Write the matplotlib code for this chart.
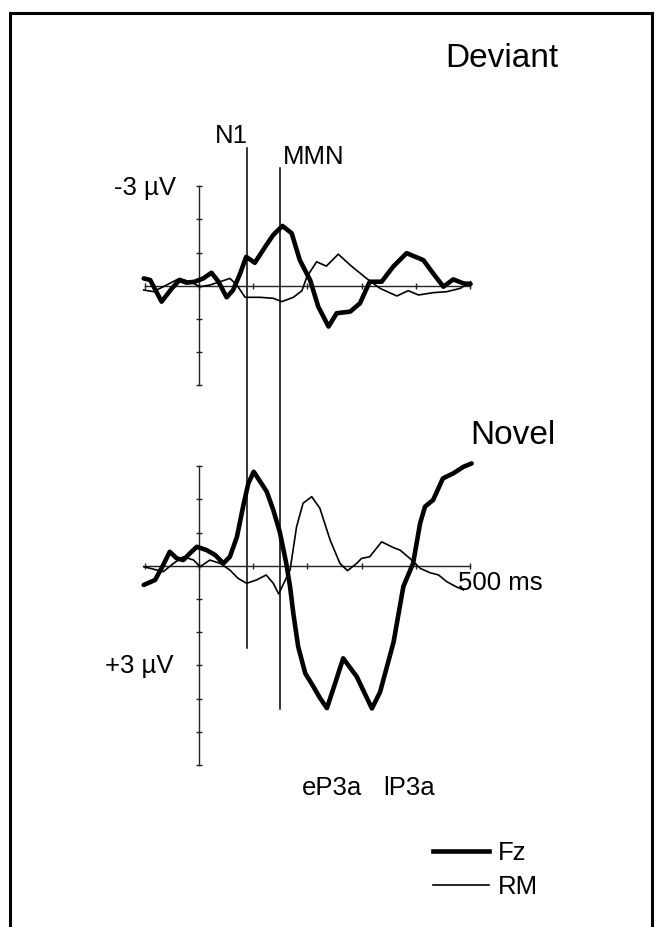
import matplotlib
matplotlib.use("Agg")
import matplotlib.pyplot as plt
from matplotlib.lines import Line2D
from matplotlib.patches import Rectangle

plt.rcParams['font.family'] = ['Liberation Sans', 'DejaVu Sans']

# ---------------- data (ms, µV; negative plotted up) ----------------
dev_fz_t = [-102, -90, -69, -50, -36, -23, -8, 8, 23, 36, 51, 63, 76, 87, 103, 122, 137, 154,
            171, 186, 205, 220, 239, 254, 279, 297, 315, 337, 358, 383, 414, 432, 451, 469, 488, 501]
dev_fz_v = [-0.22, -0.17, 0.48, 0.08, -0.17, -0.09, -0.12, -0.22, -0.39, -0.12, 0.35, 0.13, -0.37,
            -0.87, -0.69, -1.17, -1.53, -1.80, -1.58, -0.77, -0.17, 0.63, 1.23, 0.83, 0.78, 0.53,
            -0.12, -0.12, -0.57, -0.98, -0.77, -0.37, 0.03, -0.19, -0.07, -0.05]

dev_rm_t = [-102, -84, -60, -36, -17, 2, 20, 39, 57, 70, 85, 113, 137, 153, 174, 190, 199, 217,
            235, 257, 279, 309, 334, 365, 386, 405, 432, 457, 482, 501]
dev_rm_v = [0.13, 0.18, -0.02, -0.22, -0.12, 0.03, -0.02, -0.12, -0.22, -0.02, 0.35, 0.35, 0.38,
            0.48, 0.35, 0.15, -0.27, -0.72, -0.59, -0.95, -0.62, -0.22, 0.08, 0.31, 0.15, 0.28,
            0.21, 0.18, 0.08, -0.12]

nov_fz_t = [-102, -81, -66, -54, -41, -29, -17, -4, 14, 30, 45, 57, 70, 82, 91, 101, 113, 125, 137,
            149, 161, 168, 174, 183, 196, 211, 223, 236, 251, 266, 291, 319, 334, 359, 377, 395,
            408, 417, 432, 450, 469, 488, 503]
nov_fz_v = [0.58, 0.43, -0.02, -0.42, -0.22, -0.17, -0.37, -0.57, -0.47, -0.32, -0.07, -0.27, -0.87,
            -1.83, -2.48, -2.83, -2.53, -2.23, -1.68, -1.02, -0.07, 0.63, 1.43, 2.44, 3.24, 3.64,
            3.98, 4.29, 3.55, 2.79, 3.34, 4.30, 3.81, 2.30, 0.63, -0.07, -1.28, -1.78, -1.98,
            -2.63, -2.78, -2.98, -3.08]

nov_rm_t = [-102, -66, -47, -29, -10, 2, 20, 39, 57, 72, 88, 106, 124, 137, 147, 168, 180, 192, 208,
            223, 242, 260, 274, 291, 300, 315, 337, 358, 371, 389, 408, 426, 442, 457, 474, 488]
nov_rm_v = [0.03, 0.18, -0.07, -0.27, -0.17, 0.03, -0.17, -0.07, 0.13, 0.38, 0.53, 0.43, 0.28,
            0.53, 0.85, 0.13, -1.17, -1.88, -2.08, -1.73, -0.77, -0.07, 0.15, -0.07, -0.22, -0.27,
            -0.72, -0.55, -0.47, -0.22, 0.08, 0.21, 0.28, 0.48, 0.63, 0.73]

marker_names = ['N1', 'MMN']
marker_ms = [88, 150]
x_ticks = [-100, 0, 100, 200, 300, 400, 500]
dev_yrange = (-3, 3)
nov_yrange = (-3, 6)
series_labels = ['Fz', 'RM']

# ---------------- layout ----------------
W, H = 662, 927
fig = plt.figure(figsize=(W / 100, H / 100), dpi=100)


def fx(px):
    return px / W


def fy(py):
    return 1 - py / H


X0, PX_MS, PX_UV = 199.0, 0.542, 33.2
DEV_ZERO, NOV_ZERO = 285.7, 565.7
PANEL_OFFSET = (NOV_ZERO - DEV_ZERO) / PX_UV   # novel zero expressed in deviant µV units


def make_axes(zero_px, yr):
    left = X0 + PX_MS * x_ticks[0]
    right = X0 + PX_MS * x_ticks[-1]
    top = zero_px + PX_UV * yr[0]
    bot = zero_px + PX_UV * yr[1]
    ax = fig.add_axes([fx(left), fy(bot), (right - left) / W, (bot - top) / H])
    ax.set_xlim(x_ticks[0], x_ticks[-1])
    ax.set_ylim(yr[1], yr[0])
    ax.patch.set_visible(False)
    for s in ['top', 'right']:
        ax.spines[s].set_visible(False)
    ax.spines['left'].set_position(('data', 0))
    ax.spines['bottom'].set_position(('data', 0))
    ax.spines['left'].set_bounds(yr[0], yr[1])
    ax.spines['bottom'].set_bounds(x_ticks[0], x_ticks[-1])
    for s in ['left', 'bottom']:
        ax.spines[s].set_linewidth(1.0)
        ax.spines[s].set_color('#222222')
    ax.set_xticks(x_ticks)
    ax.set_yticks(list(range(yr[0], yr[1] + 1)))
    ax.tick_params(direction='inout', length=4.5, width=1.0, color='#222222',
                   labelleft=False, labelbottom=False)
    return ax


ax_dev = make_axes(DEV_ZERO, dev_yrange)
ax_nov = make_axes(NOV_ZERO, nov_yrange)

kw_fz = dict(color='black', lw=3.3, solid_joinstyle='round', solid_capstyle='round',
             clip_on=False, zorder=4)
kw_rm = dict(color='black', lw=1.2, solid_joinstyle='round', clip_on=False, zorder=3)

ax_dev.plot(dev_fz_t, dev_fz_v, **kw_fz)
ax_dev.plot(dev_rm_t, dev_rm_v, **kw_rm)
ax_nov.plot(nov_fz_t, nov_fz_v, **kw_fz)
ax_nov.plot(nov_rm_t, nov_rm_v, **kw_rm)

# vertical component markers spanning both panels
marker_top = [-4.15, -3.55]     # in deviant µV units
marker_bot = [2.48, 4.32]       # in novel µV units
for ms, yt, yb in zip(marker_ms, marker_top, marker_bot):
    ax_dev.plot([ms, ms], [yt, yb + PANEL_OFFSET], color='black', lw=1.1,
                clip_on=False, zorder=2)

# ---------------- text ----------------
big, small = 24, 18.5
fig.text(fx(445), fy(67), 'Deviant', fontsize=big, ha='left', va='baseline')
fig.text(fx(470), fy(444), 'Novel', fontsize=big, ha='left', va='baseline')
fig.text(fx(215), fy(143), marker_names[0], fontsize=small, ha='left', va='baseline')
fig.text(fx(283), fy(164), marker_names[1], fontsize=small, ha='left', va='baseline')
fig.text(fx(176), fy(195), '-3 µV', fontsize=small, ha='right', va='baseline')
fig.text(fx(174), fy(673), '+3 µV', fontsize=small, ha='right', va='baseline')
fig.text(fx(458), fy(590), '500 ms', fontsize=small, ha='left', va='baseline')
fig.text(fx(302), fy(795), 'eP3a', fontsize=small, ha='left', va='baseline')
fig.text(fx(383), fy(795), 'lP3a', fontsize=small, ha='left', va='baseline')

# ---------------- legend ----------------
handles = [Line2D([], [], color='black', lw=3.3, label=series_labels[0]),
           Line2D([], [], color='black', lw=1.2, label=series_labels[1])]
fig.legend(handles=handles, loc='center left', bbox_to_anchor=(fx(433), fy(870)),
           frameon=False, fontsize=small, handlelength=2.16, handletextpad=0.38,
           labelspacing=0.36, borderpad=0, borderaxespad=0)

# ---------------- frame ----------------
fig.add_artist(Rectangle((fx(10), fy(960)), fx(652) - fx(10), fy(13) - fy(960),
                         transform=fig.transFigure, fill=False, lw=2.2,
                         edgecolor='black', clip_on=False))

fig.savefig('out.png', dpi=100)
